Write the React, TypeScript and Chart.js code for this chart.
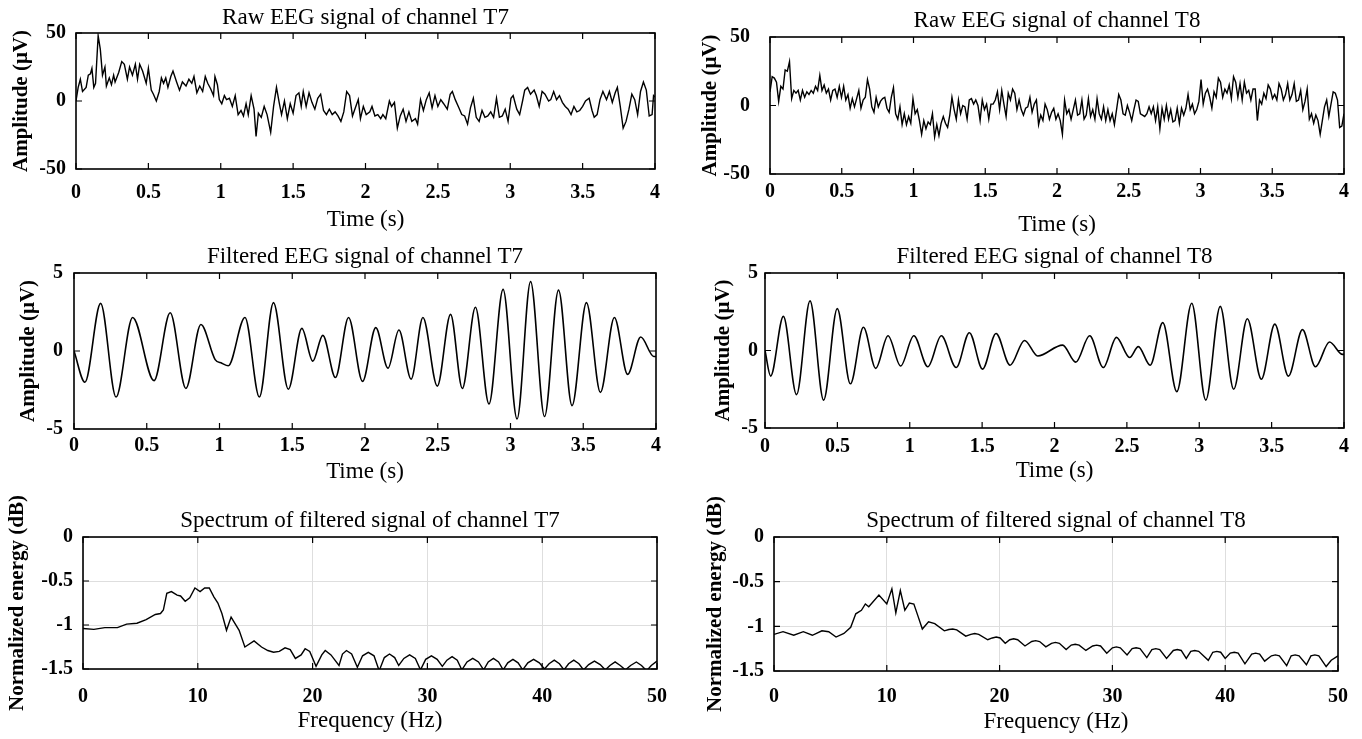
import React, { useEffect, useRef } from 'react';
import { Chart, registerables } from 'chart.js';

Chart.register(...registerables);

// ---------------- DATA ----------------
const TIME_TICKS_MAX = 4;

const RAW_T7_TIME = [
  0, 0.015, 0.03, 0.045, 0.07, 0.085, 0.1, 0.11, 0.123, 0.135,
  0.153, 0.168, 0.183, 0.2, 0.21, 0.23, 0.245, 0.26, 0.27, 0.295,
  0.316, 0.334, 0.355, 0.37, 0.39, 0.41, 0.425, 0.44, 0.46, 0.485,
  0.5, 0.52, 0.535, 0.555, 0.575, 0.59, 0.605, 0.62, 0.635, 0.655,
  0.67, 0.695, 0.715, 0.735, 0.76, 0.78, 0.8, 0.815, 0.835, 0.855,
  0.875, 0.893, 0.91, 0.93, 0.95, 0.96, 0.977, 0.99, 1.007, 1.025,
  1.04, 1.06, 1.08, 1.1, 1.12, 1.14, 1.157, 1.175, 1.19, 1.21,
  1.23, 1.244, 1.26, 1.28, 1.3, 1.32, 1.345, 1.365, 1.385, 1.405,
  1.42, 1.44, 1.46, 1.48, 1.5, 1.52, 1.54, 1.556, 1.57, 1.59,
  1.61, 1.63, 1.65, 1.67, 1.69, 1.71, 1.73, 1.75, 1.77, 1.79,
  1.81, 1.83, 1.85, 1.87, 1.89, 1.91, 1.93, 1.95, 1.965, 1.985,
  2.005, 2.03, 2.045, 2.065, 2.085, 2.105, 2.12, 2.14, 2.165, 2.18,
  2.2, 2.22, 2.24, 2.26, 2.28, 2.3, 2.32, 2.345, 2.36, 2.38,
  2.4, 2.42, 2.44, 2.46, 2.48, 2.5, 2.52, 2.54, 2.565, 2.585,
  2.6, 2.62, 2.645, 2.665, 2.685, 2.705, 2.725, 2.745, 2.765, 2.785,
  2.805, 2.825, 2.845, 2.865, 2.885, 2.905, 2.925, 2.945, 2.965, 2.985,
  3.005, 3.02, 3.045, 3.065, 3.085, 3.1, 3.12, 3.14, 3.165, 3.18,
  3.2, 3.22, 3.24, 3.265, 3.28, 3.3, 3.32, 3.34, 3.36, 3.38,
  3.4, 3.42, 3.44, 3.46, 3.48, 3.5, 3.52, 3.545, 3.565, 3.58,
  3.6, 3.62, 3.64, 3.665, 3.685, 3.705, 3.725, 3.74, 3.76, 3.78,
  3.8, 3.82, 3.84, 3.86, 3.88, 3.9, 3.92, 3.94, 3.96, 3.98,
  3.99, 4.0,
];
const RAW_T7_VALUE = [
  0, 10, 16, 7, 10, 19, 20, 24, 10, 13,
  48, 38, 19, 25, 11, 17, 12, 19, 14, 21,
  29, 27, 16, 25, 19, 27, 16, 27, 22, 13,
  24, 8, 5, 0, 7, 17, 13, 17, 10, 18,
  22, 14, 8, 14, 11, 16, 13, 18, 6, 11,
  7, 18, 13, 9, 4, 18, 12, 1, -2, 4,
  1, 2, -4, 4, -10, -7, -11, -2, -10, 4,
  -6, -26, -9, -12, -4, -10, -23, -4, 10, -2,
  -10, 0, -13, -2, -9, 4, 6, -4, 7, -4,
  6, -1, -6, 2, 5, -7, -10, -6, -10, -8,
  -11, -15, -8, 7, 4, -11, -5, 1, -13, -4,
  -10, -8, -4, -11, -10, -13, -10, -13, 0, -4,
  -1, -20, -11, -6, -15, -8, -15, -13, -17, 1,
  -7, 1, 6, -5, 4, -4, 1, -2, -6, 5,
  7, 1, -5, -10, -11, -17, -5, 2, -12, -15,
  -7, -12, -11, -8, -12, 2, -12, -11, -6, -15,
  2, 4, -6, -10, 0, 8, 10, 5, 8, 4,
  -4, 7, 5, 0, 1, 7, 1, 4, -1, -4,
  -6, -10, -4, -8, -7, -4, 0, 2, -7, -12,
  -10, 1, 7, 1, 7, -1, 6, 10, -4, -20,
  -15, -6, 5, 1, -10, 7, 14, 8, -11, -10,
  4, 3,
];

// uniformly sampled over 0..4 s
const RAW_T8_VALUE = [
  10, 21, 20, 17, 3, 14, 12, 26, 25, 32,
  5, 11, 9, 11, 4, 11, 6, 10, 8, 11,
  9, 14, 11, 22, 11, 15, 9, 12, 4, 11,
  12, 6, 14, 6, 14, 4, 8, -2, 5, -1,
  5, 11, -2, 4, 6, 19, 12, -1, -5, 6,
  -1, 3, 5, 6, -2, -5, 6, 13, -6, -10,
  -1, -14, -6, -14, -8, -13, 5, -6, -3, -11,
  -21, -11, -17, -12, -14, -6, -23, -14, -22, -13,
  -8, -13, -16, -7, 6, -3, -10, 4, -6, 0,
  -1, -10, 4, 5, 1, 4, 0, -11, 4, -3,
  1, -10, 1, 1, 4, 10, -3, 11, 1, -8,
  9, 4, 12, 9, -3, 4, -3, -7, -2, -1,
  6, -5, 1, 4, -14, -7, -11, 1, -3, -10,
  -5, -2, -10, -6, -11, -21, 4, -6, -3, -10,
  -3, 4, -7, -6, 4, -10, -7, 5, -8, -3,
  -10, 5, -6, -10, -1, -11, -3, -11, -6, -14,
  -3, 8, 4, -6, -7, 0, -5, -11, -3, 4,
  3, -6, -7, -8, -6, -1, -6, -1, -11, -1,
  -17, -2, -10, 0, -10, -3, -12, -11, -2, -13,
  -2, -7, -2, 8, -3, 1, -6, -3, 3, 19,
  1, 9, 12, 6, -2, 10, 6, 20, 17, 6,
  12, 9, 15, 5, 21, 17, 6, 16, 4, 17,
  9, 11, 4, 12, 12, -11, 4, 1, 9, 5,
  15, 12, 5, 8, 4, 16, 12, 4, 8, 16,
  4, 8, 16, 3, 4, 11, -3, 3, 12, -10,
  -6, -13, -7, -11, -21, -11, -1, 4, -8, 1,
  10, 9, 4, -16, -15, -6,
];
const RAW_T8_SAMPLE_INTERVAL = TIME_TICKS_MAX / (RAW_T8_VALUE.length - 1);
const RAW_T8_TIME = RAW_T8_VALUE.map((_, i) => i * RAW_T8_SAMPLE_INTERVAL);

// filtered signals: turning points (peaks / troughs)
const FILT_T7_TIME = [
  0, 0.075, 0.183, 0.289, 0.403, 0.55, 0.661, 0.769, 0.872, 0.97, 1.016, 1.06,
  1.175, 1.274, 1.371, 1.473, 1.566, 1.641, 1.71, 1.797, 1.887, 1.983,
  2.074, 2.158, 2.233, 2.317, 2.398, 2.497, 2.588, 2.669, 2.759, 2.852,
  2.949, 3.045, 3.138, 3.234, 3.33, 3.423, 3.522, 3.618, 3.714, 3.805,
  3.895, 3.985, 4.0,
];
const FILT_T7_VALUE = [
  0, -2.0, 3.05, -2.95, 2.15, -1.9, 2.45, -2.4, 1.7, -0.55, -0.78, -0.95,
  2.15, -2.95, 3.1, -2.45, 1.45, -0.65, 1.0, -1.7, 2.15, -1.95,
  1.5, -1.1, 1.35, -1.8, 2.15, -2.25, 2.35, -2.4, 2.8, -3.4,
  3.95, -4.35, 4.45, -4.2, 3.9, -3.5, 3.1, -2.65, 2.15, -1.5,
  0.9, -0.35, -0.35,
];

const FILT_T8_TIME = [
  0, 0.039, 0.127, 0.218, 0.311, 0.405, 0.499, 0.59, 0.68, 0.765,
  0.85, 0.937, 1.028, 1.125, 1.218, 1.321, 1.412, 1.503, 1.596, 1.693,
  1.793, 1.884, 2.056, 2.147, 2.243, 2.337, 2.428, 2.519, 2.579, 2.661,
  2.748, 2.845, 2.948, 3.045, 3.145, 3.238, 3.332, 3.429, 3.522, 3.616,
  3.713, 3.803, 3.9, 3.99, 4.0,
];
const FILT_T8_VALUE = [
  0, -1.65, 2.2, -2.85, 3.2, -3.2, 2.7, -2.15, 1.5, -1.15,
  0.95, -1.0, 0.95, -1.05, 0.95, -1.1, 1.15, -1.2, 1.1, -0.95,
  0.65, -0.35, 0.35, -0.75, 0.95, -1.1, 0.85, -0.45, 0.25, -0.95,
  1.8, -2.65, 3.05, -3.2, 2.85, -2.5, 2.05, -1.85, 1.7, -1.65,
  1.35, -1.05, 0.55, -0.25, -0.25,
];

const SPEC_T7_FREQ = [
  0, 0.95, 1.9, 3.0, 3.8, 4.7, 5.5, 6.3, 6.75, 7.0,
  7.3, 7.7, 8.2, 8.5, 8.9, 9.3, 9.75, 10.2, 10.6, 11.0,
  11.4, 11.75, 12.1, 12.5, 12.9, 13.6, 14.1, 14.9, 15.55, 16.1,
  16.6, 17.1, 17.6, 18.05, 18.5, 19.0, 19.35, 19.75, 20.3,
  20.8, 21.1, 21.6, 22.3, 22.6, 22.95, 23.4, 23.9,
  24.35, 24.85, 25.35, 25.8, 26.25, 26.7, 27.15, 27.5,
  27.95, 28.45, 28.95, 29.4, 29.85, 30.35, 30.85, 31.3,
  31.7, 32.15, 32.6, 33.0, 33.45, 33.95, 34.45, 34.9,
  35.3, 35.75, 36.2, 36.6, 37.0, 37.45, 37.9, 38.3,
  38.75, 39.25, 39.75, 40.2, 40.6, 41.05, 41.5, 41.9,
  42.3, 42.75, 43.2, 43.6, 44.05, 44.55, 45.05, 45.5,
  45.9, 46.35, 46.8, 47.25, 47.7, 48.2, 48.65, 49.1,
  49.5, 50,
];
const SPEC_T7_VALUE = [
  -1.04, -1.05, -1.03, -1.03, -0.99, -0.98, -0.94, -0.88, -0.87, -0.83,
  -0.64, -0.62, -0.66, -0.67, -0.73, -0.69, -0.58, -0.62, -0.58, -0.58,
  -0.68, -0.75, -0.87, -1.06, -0.91, -1.06, -1.25, -1.18, -1.25, -1.29,
  -1.31, -1.3, -1.26, -1.28, -1.38, -1.34, -1.27, -1.3, -1.47,
  -1.34, -1.29, -1.34, -1.46, -1.33, -1.29, -1.33, -1.48,
  -1.35, -1.31, -1.35, -1.52, -1.37, -1.33, -1.37, -1.46,
  -1.38, -1.34, -1.38, -1.51, -1.39, -1.35, -1.39, -1.47,
  -1.4, -1.36, -1.4, -1.51, -1.42, -1.38, -1.42, -1.51,
  -1.42, -1.38, -1.42, -1.51, -1.43, -1.39, -1.43, -1.51,
  -1.43, -1.39, -1.43, -1.5, -1.44, -1.4, -1.44, -1.51,
  -1.44, -1.4, -1.44, -1.51, -1.45, -1.41, -1.45, -1.51,
  -1.46, -1.42, -1.46, -1.51, -1.46, -1.42, -1.46, -1.52,
  -1.46, -1.41,
];

const SPEC_T8_FREQ = [
  0, 0.8, 1.75, 2.6, 3.4, 4.25, 4.85, 5.5, 6.2, 6.8,
  7.25, 7.75, 8.1, 8.4, 9.3, 10.0, 10.45, 10.8, 11.2, 11.6,
  12.0, 12.4, 12.75, 13.15, 13.7, 14.25, 15.1,
  15.5, 15.85, 16.2, 17.0, 17.45, 17.8, 18.15, 18.95,
  19.35, 19.7, 20.05, 20.5, 20.9, 21.25, 21.6, 22.25,
  22.85, 23.2, 23.55, 24.1, 24.6, 24.95, 25.3, 25.9,
  26.35, 26.7, 27.05, 27.65, 28.25, 28.6, 28.95, 29.5,
  30.0, 30.35, 30.7, 31.3, 31.75, 32.1, 32.45, 33.05,
  33.5, 33.85, 34.2, 34.8, 35.4, 35.75, 36.1, 36.55,
  36.95, 37.3, 37.65, 38.5, 38.9, 39.25, 39.6, 40.0,
  40.45, 40.8, 41.15, 41.75, 42.35, 42.7, 43.05, 43.5,
  44.1, 44.45, 44.8, 45.45, 45.85, 46.2, 46.55, 47.2,
  47.6, 47.95, 48.3, 48.95, 49.4, 50,
];
const SPEC_T8_VALUE = [
  -1.09, -1.06, -1.1, -1.06, -1.1, -1.05, -1.06, -1.12, -1.08, -1.01,
  -0.86, -0.82, -0.75, -0.78, -0.65, -0.75, -0.58, -0.85, -0.6, -0.82,
  -0.74, -0.75, -0.88, -1.03, -0.95, -0.97, -1.05,
  -1.035, -1.03, -1.04, -1.11, -1.09, -1.08, -1.09, -1.15,
  -1.13, -1.12, -1.13, -1.19, -1.15, -1.14, -1.15, -1.22,
  -1.17, -1.16, -1.17, -1.23, -1.19, -1.18, -1.19, -1.26,
  -1.21, -1.2, -1.21, -1.27, -1.22, -1.21, -1.22, -1.3,
  -1.24, -1.23, -1.24, -1.32, -1.25, -1.24, -1.25, -1.35,
  -1.26, -1.25, -1.26, -1.36, -1.27, -1.26, -1.27, -1.36,
  -1.28, -1.27, -1.28, -1.38, -1.29, -1.28, -1.29, -1.36,
  -1.3, -1.29, -1.3, -1.42, -1.31, -1.3, -1.31, -1.39,
  -1.33, -1.32, -1.33, -1.44, -1.33, -1.32, -1.33, -1.43,
  -1.33, -1.32, -1.33, -1.45, -1.38, -1.33,
];

// ---------------- STYLE ----------------
const FONT = '"Liberation Serif", "Times New Roman", serif';
const FS_TITLE = 23;
const FS_TICK = 20;
const FS_XTITLE = 23;
const FS_YTITLE = 21;
const TOP_EXTRA = 45;

type Geo = {
  plotL: number; plotR: number; plotT: number; plotB: number;
  yTitleX: number; yGap: number; titleDy: number; xTickDy: number; xTitleDy: number;
};

type PanelCfg = {
  title: string; xTitle: string; yTitle: string;
  xs: number[]; ys: number[];
  xMin: number; xMax: number; xStep: number;
  yMin: number; yMax: number; yStep: number;
  grid: boolean; smooth: boolean; lineWidth: number;
  geo: Geo;
};

const PANELS: PanelCfg[] = [
  {
    title: 'Raw EEG signal of channel T7', xTitle: 'Time (s)', yTitle: 'Amplitude (\u03bcV)',
    xs: RAW_T7_TIME, ys: RAW_T7_VALUE, xMin: 0, xMax: 4, xStep: 0.5, yMin: -50, yMax: 50, yStep: 50,
    grid: false, smooth: false, lineWidth: 1.4,
    geo: { plotL: 76, plotR: 655, plotT: 33, plotB: 169, yTitleX: 22, yGap: 10, titleDy: 15, xTickDy: 24, xTitleDy: 51 },
  },
  {
    title: 'Raw EEG signal of channel T8', xTitle: 'Time (s)', yTitle: 'Amplitude (\u03bcV)',
    xs: RAW_T8_TIME, ys: RAW_T8_VALUE, xMin: 0, xMax: 4, xStep: 0.5, yMin: -50, yMax: 50, yStep: 50,
    grid: false, smooth: false, lineWidth: 1.4,
    geo: { plotL: 770, plotR: 1344, plotT: 37, plotB: 174, yTitleX: 711, yGap: 20, titleDy: 16, xTickDy: 18, xTitleDy: 51 },
  },
  {
    title: 'Filtered EEG signal of channel T7', xTitle: 'Time (s)', yTitle: 'Amplitude (\u03bcV)',
    xs: FILT_T7_TIME, ys: FILT_T7_VALUE, xMin: 0, xMax: 4, xStep: 0.5, yMin: -5, yMax: 5, yStep: 5,
    grid: false, smooth: true, lineWidth: 1.6,
    geo: { plotL: 74, plotR: 656, plotT: 273, plotB: 429, yTitleX: 29, yGap: 11, titleDy: 16, xTickDy: 17, xTitleDy: 43 },
  },
  {
    title: 'Filtered EEG signal of channel T8', xTitle: 'Time (s)', yTitle: 'Amplitude (\u03bcV)',
    xs: FILT_T8_TIME, ys: FILT_T8_VALUE, xMin: 0, xMax: 4, xStep: 0.5, yMin: -5, yMax: 5, yStep: 5,
    grid: false, smooth: true, lineWidth: 1.6,
    geo: { plotL: 765, plotR: 1344, plotT: 273, plotB: 428, yTitleX: 724, yGap: 7, titleDy: 16, xTickDy: 19, xTitleDy: 43 },
  },
  {
    title: 'Spectrum of filtered signal of channel T7', xTitle: 'Frequency (Hz)', yTitle: 'Normalized energy (dB)',
    xs: SPEC_T7_FREQ, ys: SPEC_T7_VALUE, xMin: 0, xMax: 50, xStep: 10, yMin: -1.5, yMax: 0, yStep: 0.5,
    grid: true, smooth: false, lineWidth: 1.4,
    geo: { plotL: 83, plotR: 658, plotT: 537, plotB: 669, yTitleX: 18, yGap: 10, titleDy: 16, xTickDy: 28, xTitleDy: 52 },
  },
  {
    title: 'Spectrum of filtered signal of channel T8', xTitle: 'Frequency (Hz)', yTitle: 'Normalized energy (dB)',
    xs: SPEC_T8_FREQ, ys: SPEC_T8_VALUE, xMin: 0, xMax: 50, xStep: 10, yMin: -1.5, yMax: 0, yStep: 0.5,
    grid: true, smooth: false, lineWidth: 1.4,
    geo: { plotL: 774, plotR: 1338, plotT: 537, plotB: 671, yTitleX: 716, yGap: 10, titleDy: 16, xTickDy: 26, xTitleDy: 51 },
  },
];

const RIGHT_PAD = 25;

function fmt(v: number) {
  return String(Math.round(v * 100) / 100);
}

const framePlugin = {
  id: 'matlabFrame',
  afterDatasetsDraw(chart: any) {
    const { ctx, chartArea: a, scales } = chart;
    const xs = scales.x, ys = scales.y;
    ctx.save();
    ctx.strokeStyle = '#000';
    ctx.lineWidth = 1.2;
    const tl = 6;
    ctx.beginPath();
    xs.ticks.forEach((t: any) => {
      const p = xs.getPixelForValue(t.value);
      ctx.moveTo(p, a.bottom); ctx.lineTo(p, a.bottom - tl);
      ctx.moveTo(p, a.top); ctx.lineTo(p, a.top + tl);
    });
    ys.ticks.forEach((t: any) => {
      const p = ys.getPixelForValue(t.value);
      ctx.moveTo(a.left, p); ctx.lineTo(a.left + tl, p);
      ctx.moveTo(a.right, p); ctx.lineTo(a.right - tl, p);
    });
    ctx.stroke();
    ctx.lineWidth = 1.6;
    ctx.strokeRect(a.left, a.top, a.right - a.left, a.bottom - a.top);
    ctx.restore();
  },
};

function panelBox(p: PanelCfg) {
  const g = p.geo;
  const yW = Math.round(g.plotL - g.yTitleX + 0.6 * FS_YTITLE + 2);
  const tH = Math.round(g.titleDy + 0.6 * FS_TITLE + TOP_EXTRA);
  const xH = Math.round(g.xTitleDy + 0.6 * FS_XTITLE + 4);
  const width = yW + (g.plotR - g.plotL) + RIGHT_PAD;
  const height = tH + (g.plotB - g.plotT) + xH;
  return { yW, tH, xH, width, height, left: g.plotL - yW, top: g.plotT - tH };
}

function Panel({ p }: { p: PanelCfg }) {
  const ref = useRef<HTMLCanvasElement | null>(null);
  const box = panelBox(p);
  useEffect(() => {
    const g = p.geo;
    const canvas = ref.current;
    if (!canvas) return;
    const titlePadTop = box.tH - g.titleDy - 0.6 * FS_TITLE;
    const titlePadBottom = box.tH - 1.2 * FS_TITLE - titlePadTop;
    const xTitlePadBottom = box.xH - g.xTitleDy - 0.6 * FS_XTITLE;
    const yTitlePadTop = box.yW - (g.plotL - g.yTitleX) - 0.6 * FS_YTITLE;
    const gridOpts = p.grid
      ? { display: true, color: '#dedede', lineWidth: 1, drawTicks: false }
      : { display: false, drawTicks: false };
    const data = p.xs.map((x, i) => ({ x, y: p.ys[i] }));
    const chart = new Chart(canvas, {
      type: 'line',
      data: {
        datasets: [
          {
            data,
            borderColor: '#000',
            borderWidth: p.lineWidth,
            pointRadius: 0,
            fill: false,
            tension: 0,
            cubicInterpolationMode: p.smooth ? 'monotone' : 'default',
          } as any,
        ],
      },
      options: {
        responsive: false,
        animation: false,
        events: [],
        layout: { padding: { left: 0, top: 0, right: RIGHT_PAD, bottom: 0 } },
        plugins: {
          legend: { display: false },
          tooltip: { enabled: false },
          title: {
            display: true,
            text: p.title,
            fullSize: false,
            color: '#000',
            font: { family: FONT, size: FS_TITLE, weight: 'normal', lineHeight: 1.2 },
            padding: { top: titlePadTop, bottom: Math.max(0, titlePadBottom) },
          },
        },
        scales: {
          x: {
            type: 'linear',
            min: p.xMin,
            max: p.xMax,
            ticks: {
              stepSize: p.xStep,
              autoSkip: false,
              maxRotation: 0,
              padding: g.xTickDy - 0.6 * FS_TICK,
              color: '#000',
              font: { family: FONT, size: FS_TICK, weight: 'bold', lineHeight: 1.2 },
              callback: (v: any) => fmt(Number(v)),
            },
            grid: gridOpts,
            border: { display: false },
            title: {
              display: true,
              text: p.xTitle,
              color: '#000',
              font: { family: FONT, size: FS_XTITLE, weight: 'normal', lineHeight: 1.2 },
              padding: { top: 0, bottom: xTitlePadBottom },
            },
            afterFit: (s: any) => { s.height = box.xH; },
          },
          y: {
            type: 'linear',
            min: p.yMin,
            max: p.yMax,
            ticks: {
              stepSize: p.yStep,
              autoSkip: false,
              padding: g.yGap,
              color: '#000',
              font: { family: FONT, size: FS_TICK, weight: 'bold', lineHeight: 1.2 },
              callback: (v: any) => fmt(Number(v)),
            },
            grid: gridOpts,
            border: { display: false },
            title: {
              display: true,
              text: p.yTitle,
              color: '#000',
              font: { family: FONT, size: FS_YTITLE, weight: 'bold', lineHeight: 1.2 },
              padding: { top: yTitlePadTop, bottom: 0 },
            },
            afterFit: (s: any) => { s.width = box.yW; },
          },
        },
      } as any,
      plugins: [framePlugin],
    });
    return () => chart.destroy();
  }, []);
  return (
    <canvas
      ref={ref}
      width={box.width}
      height={box.height}
      style={{ position: 'absolute', left: box.left, top: box.top, width: box.width, height: box.height }}
    />
  );
}

export default function App() {
  return (
    <div style={{ position: 'fixed', left: 0, top: 0, width: 1362, height: 739, background: '#fff', overflow: 'hidden' }}>
      {PANELS.map((p, i) => (
        <Panel key={i} p={p} />
      ))}
    </div>
  );
}
